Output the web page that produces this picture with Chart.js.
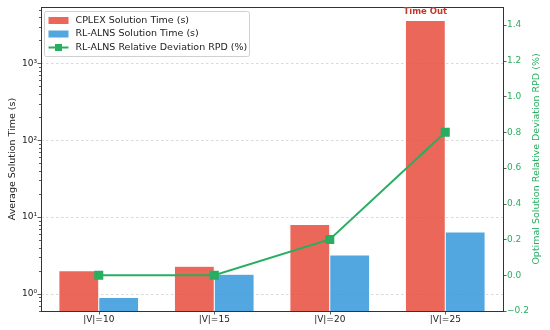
<!DOCTYPE html>
<html><head><meta charset="utf-8">
<script src="https://cdn.jsdelivr.net/npm/chart.js@4.4.1/dist/chart.umd.min.js"></script>
<style>html,body{margin:0;padding:0;background:#fff}</style>
</head><body>
<canvas id="c" width="550" height="330"></canvas>
<script>
const categories = ['|V|=10', '|V|=15', '|V|=20', '|V|=25'];
const cplexTime = [2.0, 2.3, 8.0, 3600];
const rlalnsTime = [0.9, 1.8, 3.2, 6.4];
const rpd = [0.0, 0.0, 0.2, 0.8];
const leftTicks = [1, 10, 100, 1000];
const rightTicks = [-0.2, 0.0, 0.2, 0.4, 0.6, 0.8, 1.0, 1.2, 1.4];
const timeoutLabel = 'Time Out';
const leftTitle = 'Average Solution Time (s)';
const rightTitle = 'Optimal Solution Relative Deviation RPD (%)';

const FONT = "'DejaVu Sans', sans-serif";
Chart.defaults.font.family = FONT;
Chart.defaults.font.size = 9;
Chart.defaults.color = '#222';

const RED = 'rgba(231,76,60,0.85)';
const BLUE = 'rgba(52,152,219,0.85)';
const GREEN = '#27ae60';
const SUP = {'0':'\u2070','1':'\u00b9','2':'\u00b2','3':'\u00b3','4':'\u2074','-':'\u207b'};
function isPow10(v){ const l = Math.log10(v); return Math.abs(l - Math.round(l)) < 1e-9; }
function supStr(n){ return String(n).split('').map(c => SUP[c]).join(''); }

const decor = {
  id: 'decor',
  beforeDatasetsDraw(chart){
    const {ctx, chartArea: a, scales} = chart;
    ctx.save();
    ctx.strokeStyle = '#cfcfcf'; ctx.lineWidth = 0.8; ctx.setLineDash([2.5, 2.5]);
    leftTicks.forEach(v => {
      const y = Math.round(scales.y.getPixelForValue(v)) + 0.5;
      ctx.beginPath(); ctx.moveTo(a.left, y); ctx.lineTo(a.right, y); ctx.stroke();
    });
    ctx.restore();
  },
  afterDatasetsDraw(chart){
    const {ctx, chartArea: a, scales} = chart;
    ctx.save();
    ctx.strokeStyle = '#333'; ctx.lineWidth = 1;
    ctx.strokeRect(Math.round(a.left)+0.5, Math.round(a.top)+0.5, Math.round(a.right-a.left), Math.round(a.bottom-a.top));
    ctx.beginPath();
    for (let k = -1; k <= 3; k++) {
      for (let m = 1; m <= 9; m++) {
        const v = m * Math.pow(10, k);
        if (v < scales.y.min || v > scales.y.max) continue;
        const y = Math.round(scales.y.getPixelForValue(v)) + 0.5;
        const len = m === 1 ? 3.5 : 2;
        ctx.moveTo(a.left, y); ctx.lineTo(a.left - len, y);
      }
    }
    rightTicks.forEach(v => {
      const y = Math.round(scales.y1.getPixelForValue(v)) + 0.5;
      ctx.moveTo(a.right, y); ctx.lineTo(a.right + 3.5, y);
    });
    categories.forEach((c, i) => {
      const x = Math.round(scales.x.getPixelForValue(i)) + 0.5;
      ctx.moveTo(x, a.bottom); ctx.lineTo(x, a.bottom + 3.5);
    });
    ctx.lineWidth = 0.8; ctx.stroke();
    ctx.restore();
  },
  afterDraw(chart){
    const {ctx, chartArea: a} = chart;
    ctx.save();
    // axis titles (both read bottom-to-top)
    const cy = (a.top + a.bottom) / 2;
    ctx.font = '9.5px ' + FONT; ctx.textAlign = 'center'; ctx.textBaseline = 'middle';
    ctx.save(); ctx.translate(12.5, cy); ctx.rotate(-Math.PI / 2);
    ctx.fillStyle = '#222'; ctx.fillText(leftTitle, 0, 0); ctx.restore();
    ctx.save(); ctx.translate(537, cy); ctx.rotate(-Math.PI / 2);
    ctx.fillStyle = GREEN; ctx.fillText(rightTitle, 0, 0); ctx.restore();
    // Time Out label above CPLEX last bar
    const meta = chart.getDatasetMeta(0);
    const last = meta.data[meta.data.length - 1];
    ctx.font = 'bold 8.5px ' + FONT;
    ctx.fillStyle = '#c0392b'; ctx.textAlign = 'center'; ctx.textBaseline = 'bottom';
    ctx.fillText(timeoutLabel, last.x, last.y - 4);
    // legend
    const lx = a.left + 3.5, ly = a.top + 4.5, lw = 205, lh = 45;
    ctx.fillStyle = 'rgba(255,255,255,0.85)'; ctx.strokeStyle = '#d0d0d0'; ctx.lineWidth = 1;
    ctx.beginPath();
    if (ctx.roundRect) ctx.roundRect(lx, ly, lw, lh, 2); else ctx.rect(lx, ly, lw, lh);
    ctx.fill(); ctx.stroke();
    ctx.font = '9.5px ' + FONT; ctx.textAlign = 'left'; ctx.textBaseline = 'middle';
    const ds = chart.data.datasets;
    const rows = [ly + 9, ly + 22.5, ly + 36];
    ctx.fillStyle = RED; ctx.fillRect(lx + 4, rows[0] - 3.5, 20, 7);
    ctx.fillStyle = BLUE; ctx.fillRect(lx + 4, rows[1] - 3.5, 20, 7);
    ctx.strokeStyle = GREEN; ctx.lineWidth = 2;
    ctx.beginPath(); ctx.moveTo(lx + 4, rows[2]); ctx.lineTo(lx + 24, rows[2]); ctx.stroke();
    ctx.fillStyle = GREEN; ctx.fillRect(lx + 14 - 3.5, rows[2] - 3.5, 7, 7);
    ctx.fillStyle = '#222';
    ctx.fillText(ds[0].label, lx + 31, rows[0]);
    ctx.fillText(ds[1].label, lx + 31, rows[1]);
    ctx.fillText(ds[2].label, lx + 31, rows[2]);
    ctx.restore();
  }
};

function noPad(s){ s.paddingTop = 0; s.paddingBottom = 0; }

new Chart(document.getElementById('c'), {
  data: {
    labels: categories,
    datasets: [
      { type: 'bar', label: 'CPLEX Solution Time (s)', data: cplexTime, backgroundColor: RED,
        borderColor: 'rgba(255,255,255,0.6)', borderWidth: 0.5, yAxisID: 'y', order: 1,
        categoryPercentage: 0.69, barPercentage: 1.0 },
      { type: 'bar', label: 'RL-ALNS Solution Time (s)', data: rlalnsTime, backgroundColor: BLUE,
        borderColor: 'rgba(255,255,255,0.6)', borderWidth: 0.5, yAxisID: 'y', order: 2,
        categoryPercentage: 0.69, barPercentage: 1.0 },
      { type: 'line', label: 'RL-ALNS Relative Deviation RPD (%)', data: rpd, borderColor: GREEN,
        backgroundColor: GREEN, borderWidth: 2, pointStyle: 'rect', pointRadius: 5, pointHoverRadius: 5,
        yAxisID: 'y1', order: 0, tension: 0 }
    ]
  },
  options: {
    responsive: false, animation: false, devicePixelRatio: 1,
    layout: { padding: { top: 6, left: 0, right: 0, bottom: 0 } },
    plugins: { legend: { display: false }, tooltip: { enabled: false } },
    scales: {
      x: {
        type: 'category', offset: true,
        afterFit(s){ s.height = 19; s.paddingLeft = 0; s.paddingRight = 0; },
        grid: { display: false, drawTicks: false },
        border: { display: false },
        ticks: { padding: 3, color: '#222', font: { size: 9 }, maxRotation: 0 }
      },
      y: {
        type: 'logarithmic', position: 'left', min: 0.6, max: 5400,
        afterFit(s){ s.width = 41; noPad(s); },
        afterBuildTicks(s){ s.ticks = leftTicks.map(v => ({ value: v, major: true })); },
        grid: { display: false, drawTicks: false },
        border: { display: false },
        ticks: { padding: 4, color: '#222', font: { size: 9 },
          callback: v => isPow10(v) ? '10' + supStr(Math.round(Math.log10(v))) : '' }
      },
      y1: {
        type: 'linear', position: 'right', min: -0.2, max: 1.5,
        afterFit(s){ s.width = 47; noPad(s); },
        afterBuildTicks(s){ s.ticks = rightTicks.map(v => ({ value: v })); },
        grid: { display: false, drawTicks: false },
        border: { display: false },
        ticks: { padding: 4, color: GREEN, font: { size: 9 },
          callback: v => (v < 0 ? '\u2212' : '') + Math.abs(v).toFixed(1) }
      }
    }
  },
  plugins: [decor]
});
</script>
</body></html>
